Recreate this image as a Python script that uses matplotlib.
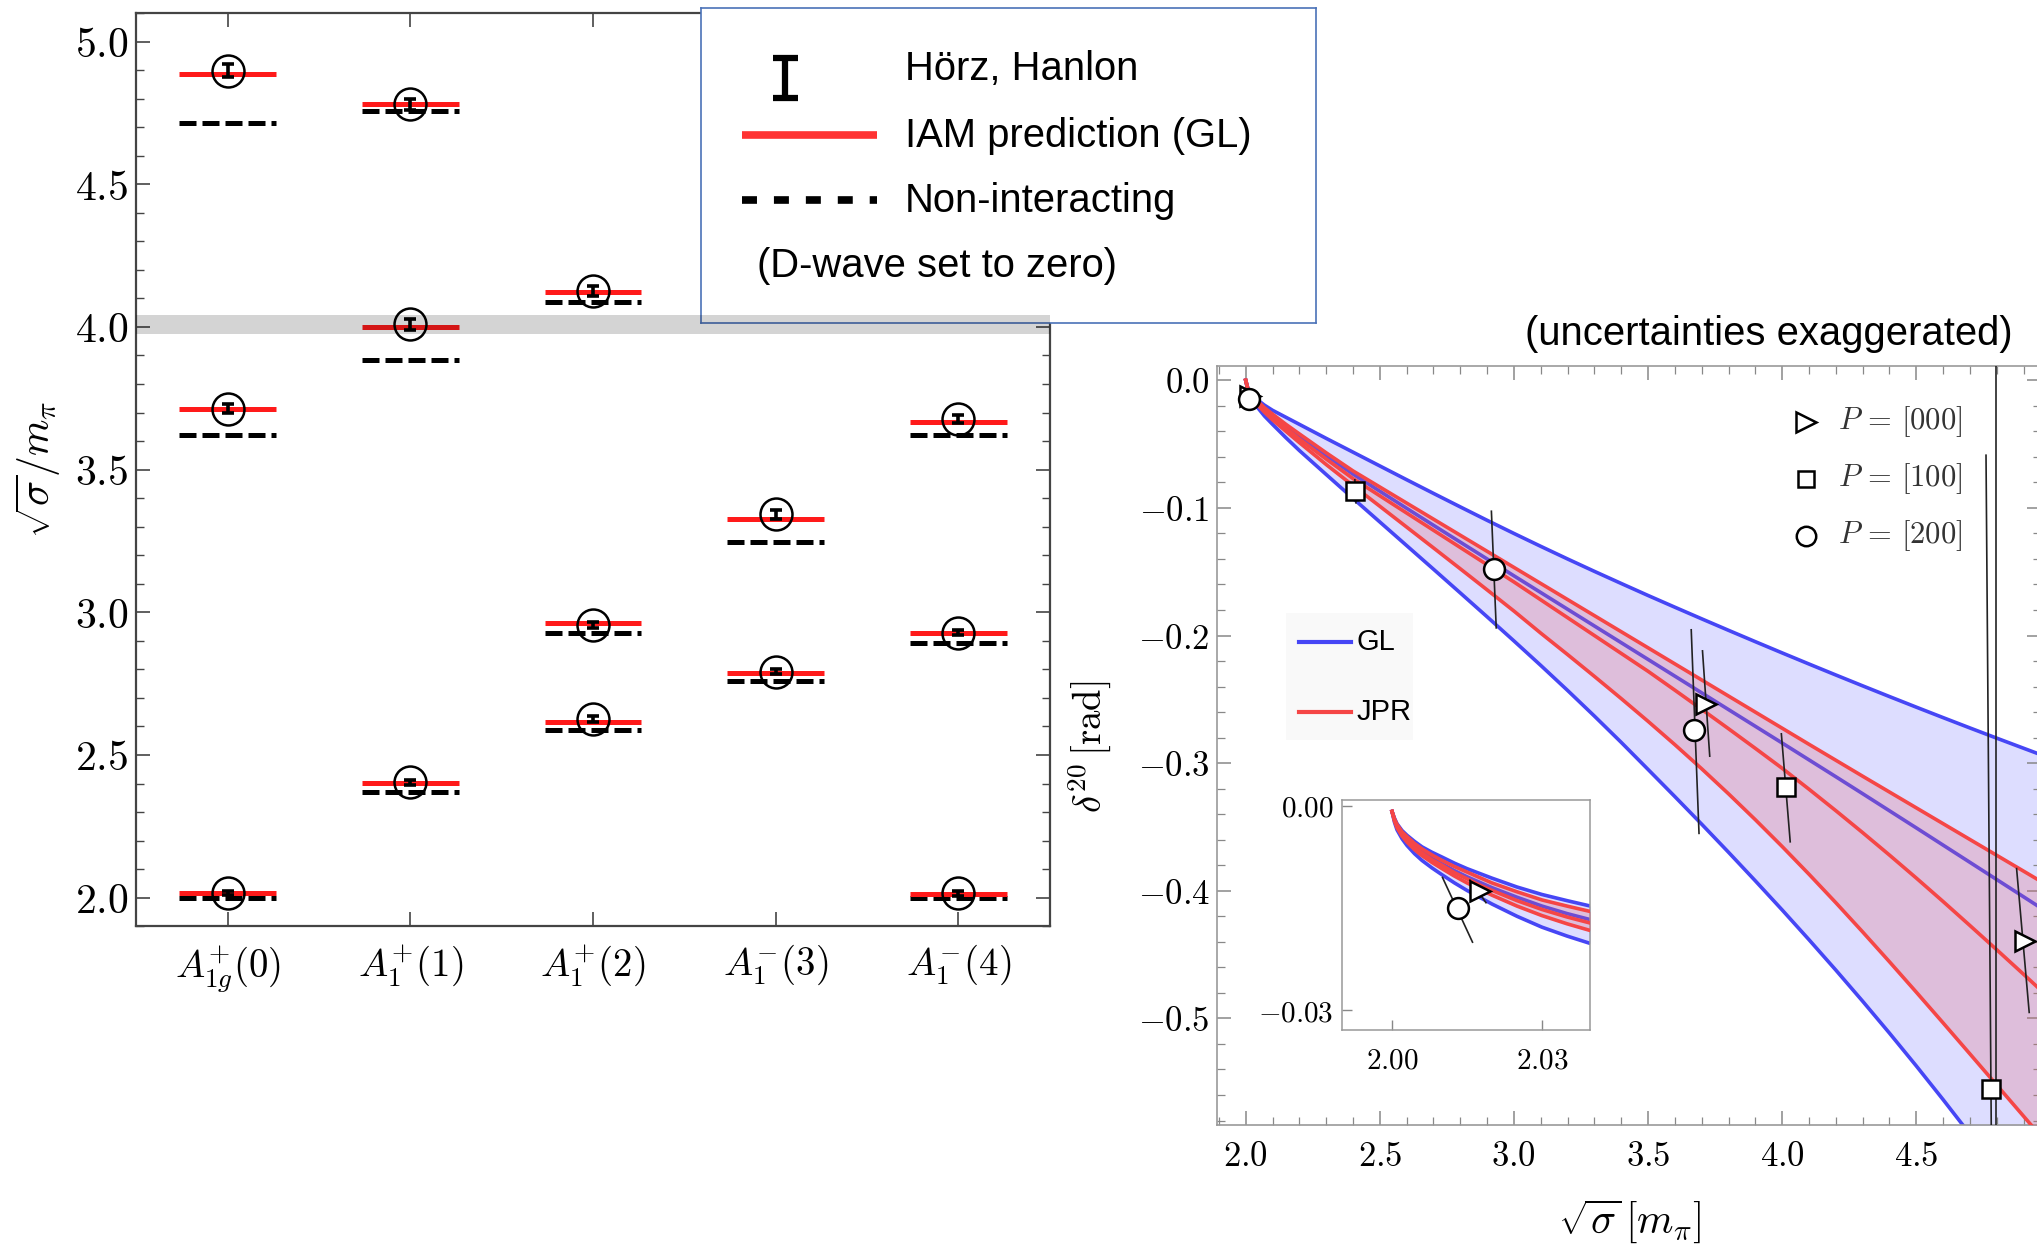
import matplotlib
matplotlib.use("Agg")
import matplotlib.pyplot as plt
from matplotlib.ticker import MultipleLocator, FixedLocator, FuncFormatter
from matplotlib.patches import Rectangle
from matplotlib.transforms import blended_transform_factory

plt.rcParams["mathtext.fontset"] = "cm"
plt.rcParams["font.family"] = ["Liberation Sans", "DejaVu Sans"]

# ---------------- spectrum (left panel) ----------------
irreps = [r"$A_{1g}^{+}(0)$", r"$A_{1}^{+}(1)$", r"$A_{1}^{+}(2)$",
          r"$A_{1}^{-}(3)$", r"$A_{1}^{-}(4)$"]
level_irrep = [0, 0, 0, 1, 1, 1, 2, 2, 2, 3, 3, 4, 4, 4]
iam_levels = [4.886, 3.714, 2.018, 4.780, 4.000, 2.402, 4.123, 2.962, 2.616,
              3.328, 2.788, 3.668, 2.926, 2.012]
free_levels = [4.714, 3.620, 2.000, 4.757, 3.884, 2.370, 4.088, 2.926, 2.587,
               3.246, 2.760, 3.620, 2.894, 2.000]
lattice_levels = [4.897, 3.714, 2.016, 4.780, 4.009, 2.404, 4.126, 2.955, 2.625,
                  3.343, 2.792, 3.678, 2.929, 2.015]
lattice_errors = [0.023, 0.016, 0.008, 0.019, 0.020, 0.008, 0.018, 0.010, 0.010,
                  0.015, 0.010, 0.014, 0.010, 0.008]
threshold_band = (3.975, 4.040)

# ---------------- phase shift (right panel) ----------------
s_main = [2.0, 2.01, 2.02, 2.04, 2.07, 2.1, 2.15, 2.2, 2.3, 2.4,
          2.5, 2.6, 2.7, 2.8, 2.9, 3.0, 3.1, 3.2, 3.3, 3.4,
          3.5, 3.6, 3.7, 3.8, 3.9, 4.0, 4.1, 4.2, 4.3, 4.4,
          4.5, 4.6, 4.7, 4.8, 4.9, 4.97]
gl_hi = [0.0, -0.0077, -0.0106, -0.0147, -0.0195, -0.0235, -0.0290, -0.0345, -0.0455, -0.0563,
         -0.0671, -0.0779, -0.0886, -0.0992, -0.1097, -0.1200, -0.1301, -0.1400, -0.1497, -0.1592,
         -0.1686, -0.1778, -0.1869, -0.1959, -0.2048, -0.2136, -0.2223, -0.2309, -0.2394, -0.2478,
         -0.2561, -0.2643, -0.2724, -0.2804, -0.2883, -0.2938]
gl_mid = [0.0, -0.0085, -0.0120, -0.0167, -0.0225, -0.0278, -0.0360, -0.0442, -0.0590, -0.0735,
          -0.0869, -0.1003, -0.1136, -0.1268, -0.1400, -0.1532, -0.1663, -0.1794, -0.1925, -0.2056,
          -0.2187, -0.2318, -0.2449, -0.2580, -0.2711, -0.2842, -0.2974, -0.3106, -0.3239, -0.3373,
          -0.3507, -0.3642, -0.3777, -0.3912, -0.4047, -0.4142]
gl_lo = [0.0, -0.0101, -0.0144, -0.0202, -0.0280, -0.0345, -0.0450, -0.0550, -0.0738, -0.0925,
         -0.1110, -0.1295, -0.1480, -0.1666, -0.1853, -0.2042, -0.2234, -0.2430, -0.2631, -0.2837,
         -0.3049, -0.3262, -0.3478, -0.3698, -0.3922, -0.4150, -0.4383, -0.4621, -0.4865, -0.5115,
         -0.5372, -0.5636, -0.5907, -0.6185, -0.6470, -0.6670]
jpr_hi = [0.0, -0.0080, -0.0113, -0.0155, -0.0215, -0.0265, -0.0345, -0.0420, -0.0568, -0.0710,
          -0.0836, -0.0962, -0.1088, -0.1214, -0.1340, -0.1466, -0.1592, -0.1718, -0.1844, -0.1970,
          -0.2096, -0.2222, -0.2348, -0.2474, -0.2600, -0.2726, -0.2852, -0.2977, -0.3102, -0.3226,
          -0.3350, -0.3474, -0.3598, -0.3722, -0.3846, -0.3933]
jpr_mid = [0.0, -0.0087, -0.0124, -0.0172, -0.0232, -0.0288, -0.0375, -0.0460, -0.0617, -0.0770,
           -0.0905, -0.1040, -0.1175, -0.1310, -0.1445, -0.1580, -0.1720, -0.1860, -0.2000, -0.2140,
           -0.2280, -0.2428, -0.2578, -0.2730, -0.2884, -0.3040, -0.3204, -0.3372, -0.3544, -0.3720,
           -0.3900, -0.4084, -0.4272, -0.4462, -0.4654, -0.4790]
jpr_lo = [0.0, -0.0092, -0.0131, -0.0183, -0.0250, -0.0310, -0.0400, -0.0488, -0.0660, -0.0825,
          -0.0987, -0.1150, -0.1313, -0.1477, -0.1642, -0.1808, -0.1981, -0.2149, -0.2320, -0.2494,
          -0.2672, -0.2855, -0.3044, -0.3240, -0.3443, -0.3653, -0.3870, -0.4093, -0.4322, -0.4556,
          -0.4794, -0.5035, -0.5278, -0.5522, -0.5766, -0.5937]

# close-up near threshold (inset)
s_inset = [2.0, 2.0005, 2.001, 2.002, 2.003, 2.0045, 2.006, 2.008, 2.01, 2.0125,
           2.015, 2.0175, 2.02, 2.025, 2.03, 2.035, 2.0397]
gl_hi_in = [-0.0008, -0.0018, -0.0026, -0.0036, -0.0043, -0.0052, -0.0060, -0.0068, -0.0075,
            -0.0084, -0.0092, -0.0099, -0.0106, -0.0119, -0.0130, -0.0139, -0.0147]
jpr_hi_in = [-0.0008, -0.0019, -0.0027, -0.0038, -0.0045, -0.0055, -0.0063, -0.0072, -0.0080,
             -0.0089, -0.0097, -0.0105, -0.0113, -0.0126, -0.0138, -0.0147, -0.0155]
gl_mid_in = [-0.0008, -0.0020, -0.0029, -0.0041, -0.0049, -0.0059, -0.0067, -0.0077, -0.0085,
             -0.0095, -0.0104, -0.0112, -0.0120, -0.0134, -0.0147, -0.0158, -0.0167]
jpr_mid_in = [-0.0008, -0.0021, -0.0030, -0.0042, -0.0050, -0.0061, -0.0069, -0.0079, -0.0087,
              -0.0098, -0.0107, -0.0116, -0.0124, -0.0139, -0.0152, -0.0163, -0.0172]
jpr_lo_in = [-0.0008, -0.0022, -0.0032, -0.0044, -0.0053, -0.0064, -0.0073, -0.0083, -0.0092,
             -0.0103, -0.0113, -0.0122, -0.0131, -0.0147, -0.0161, -0.0173, -0.0183]
gl_lo_in = [-0.0008, -0.0024, -0.0035, -0.0048, -0.0058, -0.0070, -0.0080, -0.0091, -0.0101,
            -0.0113, -0.0124, -0.0134, -0.0144, -0.0162, -0.0178, -0.0191, -0.0202]

# lattice phase shifts per total momentum, with (correlated) error segments
momenta = ["[000]", "[100]", "[200]"]
momentum_markers = [">", "s", "o"]
lat_x = [[2.0175, 3.716, 4.906], [2.409, 4.013, 4.778], [2.0131, 2.925, 3.672]]
lat_y = [[-0.0125, -0.254, -0.4393], [-0.0866, -0.3186, -0.5555], [-0.0150, -0.148, -0.274]]
err_x0 = [2.0156, 3.703, 4.874, 2.407, 3.997, 4.796, 4.760, 2.0101, 2.916, 3.661]
err_y0 = [-0.0109, -0.212, -0.3826, -0.078, -0.277, 0.05, -0.0587, -0.0105, -0.1026, -0.1955]
err_x1 = [2.0188, 3.730, 4.921, 2.411, 4.030, 4.796, 4.782, 2.0161, 2.934, 3.690]
err_y1 = [-0.0142, -0.2945, -0.4953, -0.096, -0.3616, -0.65, -0.65, -0.0200, -0.194, -0.355]

BLUE = "#4646f5"
RED = "#f54646"
W, H = 2037, 1250
fig = plt.figure(figsize=(W / 100, H / 100), dpi=100)
fig.patch.set_facecolor("white")


def fx(px):
    return px / W


def fy(py):
    return 1 - py / H


# ======================= left panel =======================
ax1 = fig.add_axes([fx(136.4), fy(926.2), 913.2 / W, 913.2 / H])
ax1.set_xlim(-0.5, 4.5)
ax1.set_ylim(1.9, 5.1)
half = 0.265
for c, r, f in zip(level_irrep, iam_levels, free_levels):
    ax1.plot([c - half, c + half], [f, f], color="black", lw=3.6, dashes=(3.4, 1.2),
             dash_capstyle="butt", zorder=2)
    ax1.plot([c - half, c + half], [r, r], color="#ff1a1a", lw=3.6,
             solid_capstyle="butt", zorder=3)
ax1.errorbar(level_irrep, lattice_levels, yerr=lattice_errors, fmt="none",
             ecolor="black", elinewidth=2.6, capsize=4.5, capthick=2.6, zorder=4)
ax1.plot(level_irrep, lattice_levels, "o", ms=23, mfc="none", mec="black",
         mew=1.8, zorder=5)

ax1.yaxis.set_major_locator(MultipleLocator(0.5))
ax1.yaxis.set_minor_locator(MultipleLocator(0.1))
ax1.yaxis.set_major_formatter(FuncFormatter(lambda v, p: r"$%.1f$" % v))
ax1.set_xticks(range(len(irreps)))
ax1.set_xticklabels(irreps, fontsize=28)
ax1.tick_params(axis="y", which="both", direction="in", left=True, right=True,
                labelsize=30, color="#444444", pad=6)
ax1.tick_params(axis="y", which="major", length=10, width=1.2)
ax1.tick_params(axis="y", which="minor", length=6, width=1.0)
ax1.tick_params(axis="x", direction="in", top=True, bottom=True, length=10,
                width=1.2, color="#444444", pad=12)
for sp in ax1.spines.values():
    sp.set_color("#444444")
    sp.set_linewidth(1.6)
ax1.set_ylabel(r"$\sqrt{\sigma}/m_{\pi}$", fontsize=30, va="center")
ax1.yaxis.set_label_coords(-0.107, 0.5)

# ---------------- legend box for the spectrum ----------------
lax = fig.add_axes([fx(701), fy(323), 615 / W, 315 / H])
lax.set_xlim(0, 615)
lax.set_ylim(315, 0)
lax.set_xticks([])
lax.set_yticks([])
for sp in lax.spines.values():
    sp.set_color("#4a72b8")
    sp.set_linewidth(1.2)
lax.errorbar([84], [70], yerr=[20], fmt="none", ecolor="black", elinewidth=4.5,
             capsize=9, capthick=4.5)
lax.plot([41, 176], [127, 127], color="#ff3333", lw=5.5, solid_capstyle="butt")
lax.plot([41, 176], [192, 192], color="black", lw=5.5, dashes=(1.96, 2.22),
         dash_capstyle="butt")
legend_rows = [("Hörz, Hanlon", 204, 72), ("IAM prediction (GL)", 204, 139),
               ("Non-interacting", 204, 204), ("(D-wave set to zero)", 56, 269)]
for txt, x, y in legend_rows:
    lax.text(x, y, txt, fontsize=28.8, va="baseline", ha="left")

# threshold band drawn over both the panel and the legend box
band = Rectangle((0, threshold_band[0]), 1, threshold_band[1] - threshold_band[0],
                 transform=blended_transform_factory(ax1.transAxes, ax1.transData),
                 facecolor="black", alpha=0.17, edgecolor="none", zorder=10)
fig.add_artist(band)

# ======================= right panel =======================
ax2 = fig.add_axes([fx(1217), fy(1125), 824 / W, 759 / H])
ax2.set_xlim(1.893, 4.965)
ax2.set_ylim(-0.5835, 0.0112)


def draw_bands(ax, s, ghi, gmid, glo, jhi, jmid, jlo, lw):
    ax.fill_between(s, ghi, glo, color=(0.35, 0.35, 1.0), alpha=0.2, lw=0, zorder=1)
    for arr in (ghi, gmid, glo):
        ax.plot(s, arr, color=BLUE, lw=lw, zorder=2)
    ax.fill_between(s, jhi, jlo, color=(0.89, 0.39, 0.44), alpha=0.25, lw=0, zorder=3)
    for arr in (jhi, jmid, jlo):
        ax.plot(s, arr, color=RED, lw=lw, zorder=4)


def draw_points(ax):
    for x0, y0, x1, y1 in zip(err_x0, err_y0, err_x1, err_y1):
        ax.plot([x0, x1], [y0, y1], color="#222222", lw=1.2, zorder=5)
    sizes = {">": 15, "s": 13, "o": 15}
    for xs, ys, m in zip(lat_x, lat_y, momentum_markers):
        ax.plot(xs, ys, m, ms=sizes[m], mfc="white", mec="black",
                mew=1.8, zorder=6, linestyle="none")


draw_bands(ax2, s_main, gl_hi, gl_mid, gl_lo, jpr_hi, jpr_mid, jpr_lo, 2.6)
draw_points(ax2)


def bold_fmt(v, p):
    if abs(v) < 1e-9:
        return r"$\mathbf{0.0}$"
    if v < 0:
        return r"$-\mathbf{%.1f}$" % abs(v)
    return r"$\mathbf{%.1f}$" % v


ax2.xaxis.set_major_locator(MultipleLocator(0.5))
ax2.xaxis.set_minor_locator(MultipleLocator(0.1))
ax2.yaxis.set_major_locator(MultipleLocator(0.1))
ax2.yaxis.set_minor_locator(MultipleLocator(0.02))
ax2.xaxis.set_major_formatter(FuncFormatter(bold_fmt))
ax2.yaxis.set_major_formatter(FuncFormatter(bold_fmt))
ax2.tick_params(which="both", direction="in", top=True, right=True,
                color="#888888", labelsize=25)
ax2.tick_params(which="major", length=10, width=1.1)
ax2.tick_params(which="minor", length=6, width=0.9)
ax2.tick_params(axis="x", pad=11)
ax2.tick_params(axis="y", pad=5)
for sp in ax2.spines.values():
    sp.set_color("#999999")
    sp.set_linewidth(1.2)
ax2.set_xlabel(r"$\sqrt{\sigma}\,[m_{\pi}]$", fontsize=30, va="center")
ax2.xaxis.set_label_coords(0.501, -0.1265)
ax2.set_ylabel(r"$\delta^{20}\,[\mathrm{rad}]$", fontsize=28, va="center")
ax2.yaxis.set_label_coords(-0.155, 0.498)

# momentum legend
leg_y = [0.9266, 0.8515, 0.7763]
for m, lab, y in zip(momentum_markers, momenta, leg_y):
    ax2.plot([0.715], [y], m, transform=ax2.transAxes, ms=14 if m != "s" else 12,
             mfc="white", mec="black", mew=1.8, zorder=7)
    ax2.text(0.7536, y, r"$P\,=\,%s$" % lab, transform=ax2.transAxes, fontsize=22,
             va="center", ha="left", color="#333333")

# scheme legend
ax2.add_patch(Rectangle((0.0837, 0.5074), 0.1542, 0.1674, transform=ax2.transAxes,
                        facecolor="#f9f9f9", edgecolor="none", zorder=7))
for lab, col, y in zip(["GL", "JPR"], [BLUE, RED], [0.6366, 0.5443]):
    ax2.plot([0.0995, 0.1626], [y, y], color=col, lw=3.0, transform=ax2.transAxes,
             zorder=8)
    ax2.text(0.1699, y, lab, transform=ax2.transAxes, fontsize=21, va="center",
             ha="left", zorder=8)

fig.text(fx(2013), fy(334), "(uncertainties exaggerated)", ha="right", va="center",
         fontsize=28.8)

# ---------------- inset near threshold ----------------
axin = fig.add_axes([fx(1342), fy(1030), 248 / W, 230 / H])
axin.set_xlim(1.990, 2.0396)
axin.set_ylim(-0.0329, 0.00088)
draw_bands(axin, s_inset, gl_hi_in, gl_mid_in, gl_lo_in, jpr_hi_in, jpr_mid_in,
           jpr_lo_in, 2.6)
draw_points(axin)
axin.xaxis.set_major_locator(FixedLocator([2.00, 2.03]))
axin.yaxis.set_major_locator(FixedLocator([0.00, -0.03]))
axin.xaxis.set_major_formatter(FuncFormatter(lambda v, p: r"$%.2f$" % v))
axin.yaxis.set_major_formatter(FuncFormatter(
    lambda v, p: r"$%.2f$" % v if abs(v) > 1e-9 else r"$0.00$"))
axin.tick_params(direction="in", length=7, width=1.0, color="#888888",
                 labelsize=21)
axin.tick_params(axis="x", pad=12)
axin.tick_params(axis="y", pad=6)
for sp in axin.spines.values():
    sp.set_color("#999999")
    sp.set_linewidth(1.1)

fig.savefig("out.png", dpi=100, facecolor="white")
